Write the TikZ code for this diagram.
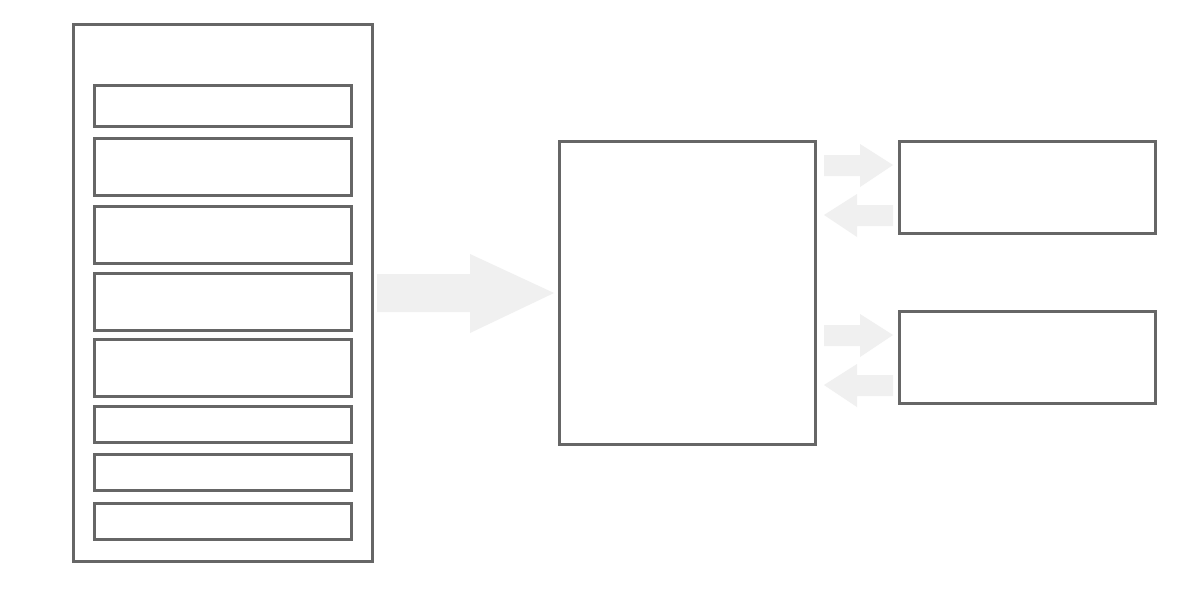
\documentclass[tikz,border=0pt]{standalone}
\usetikzlibrary{calc}
\definecolor{edge}{HTML}{666666}
\definecolor{flow}{HTML}{F0F0F0}
\tikzset{
  box/.style={draw=edge, line width=3pt, fill=white, inner sep=0pt, outer sep=0pt, rectangle},
  fat/.style={fill=flow, draw=none},
}
\newcommand{\bx}[5]{\node[box, minimum width=#4-#2, minimum height=#5-#3] (#1) at ({(#2+#4)/2},{(#3+#5)/2}) {};}
\begin{document}
\begin{tikzpicture}[x=1pt,y=-1pt]
\useasboundingbox (0,0) rectangle (1200,600);
\fill[white] (0,0) rectangle (1200,600);
% left container
\bx{outer}{73}{24}{372}{561}
\bx{l1}{94}{85}{351}{126}
\bx{l2}{94}{138}{351}{195}
\bx{l3}{94}{206}{351}{263}
\bx{l4}{94}{273}{351}{330}
\bx{l5}{94}{339}{351}{396}
\bx{l6}{94}{406}{351}{442}
\bx{l7}{94}{454}{351}{490}
\bx{l8}{94}{503}{351}{539}
% middle
\bx{mid}{559}{141}{815}{444}
% right
\bx{r1}{899}{141}{1155}{233}
\bx{r2}{899}{311}{1155}{403}
% big arrow outer -> mid
\fill[fat] (377,274) -- (470,274) -- (470,254) -- (554,293) -- (470,333) -- (470,312) -- (377,312) -- cycle;
% small arrows
\foreach \d in {0,170}{
  \fill[fat] (824,155+\d) -- (860,155+\d) -- (860,144+\d) -- (893,165+\d) -- (860,187+\d) -- (860,176+\d) -- (824,176+\d) -- cycle;
  \fill[fat] (893,205+\d) -- (857,205+\d) -- (857,194+\d) -- (824,215+\d) -- (857,237+\d) -- (857,226+\d) -- (893,226+\d) -- cycle;
}
\end{tikzpicture}
\end{document}
